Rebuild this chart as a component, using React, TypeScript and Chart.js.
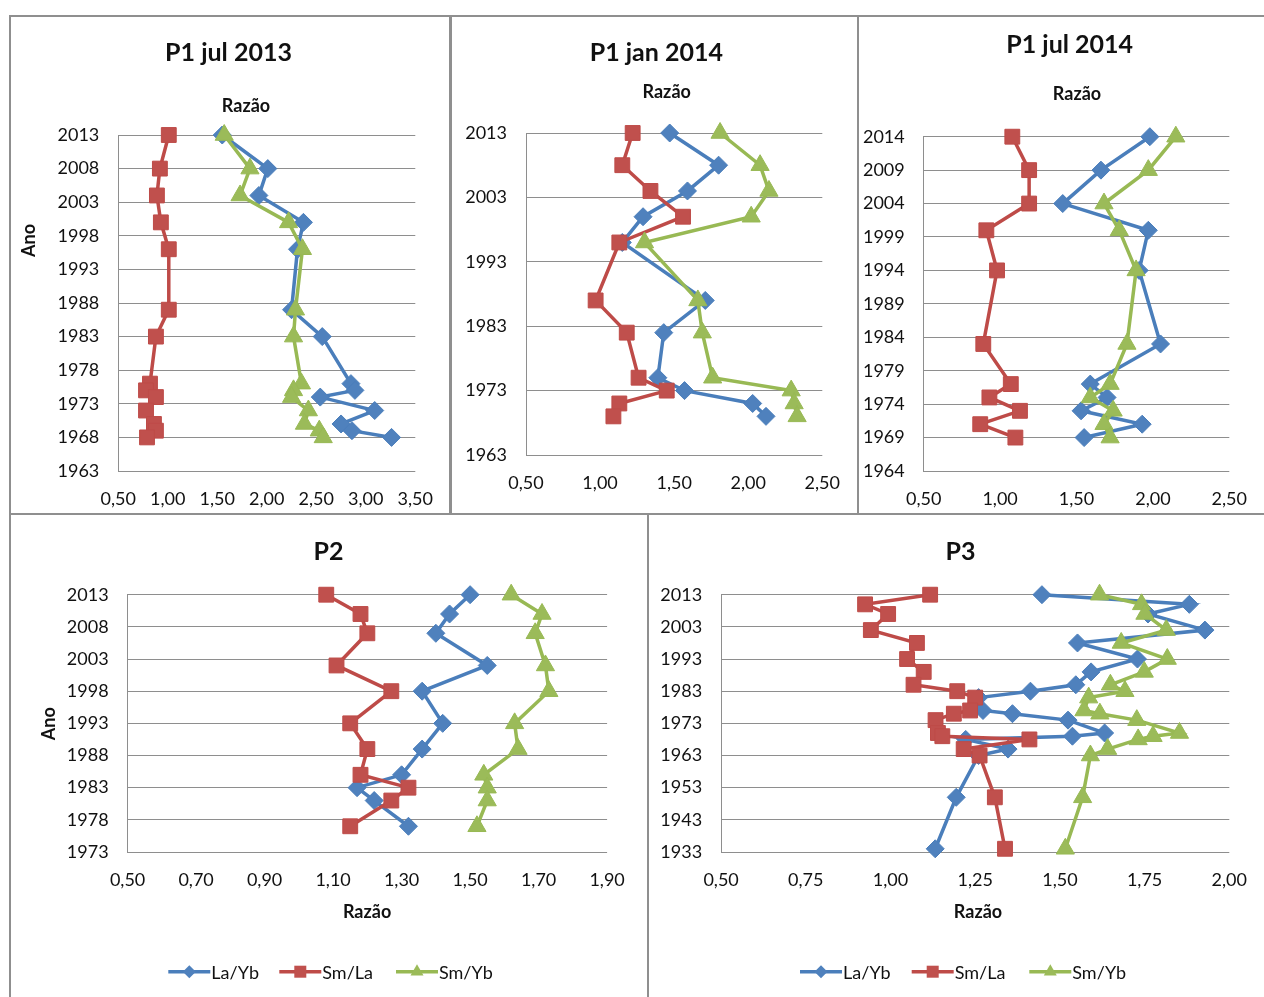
import React, { useEffect, useRef } from "react";
import { Chart, registerables } from "chart.js";

Chart.register(...registerables);

// ---------- colours / fonts ----------
const BLUE_LINE = "#4A7EBB";
const BLUE = "#4F81BD";
const RED_LINE = "#BE4B48";
const RED = "#C0504D";
const GREEN_LINE = "#98B954";
const GREEN = "#9BBB59";
const GRID = "#8e8e8e";
const TEXT = "#111111";
const FONT = "Lato";

const seriesNames = ["La/Yb", "Sm/La", "Sm/Yb"];

// ---------- P1 jul 2013 ----------
const p1j13Years = [2013, 2008, 2004, 2000, 1996, 1987, 1983, 1976, 1975, 1974, 1972, 1970, 1969, 1968];
const p1j13LaYb = [1.55, 2.01, 1.92, 2.37, 2.31, 2.25, 2.56, 2.85, 2.89, 2.54, 3.09, 2.75, 2.86, 3.26];
const p1j13SmLa = [1.01, 0.92, 0.89, 0.93, 1.01, 1.01, 0.88, 0.82, 0.78, 0.88, 0.78, 0.86, 0.88, 0.79];
const p1j13SmYb = [1.57, 1.83, 1.73, 2.22, 2.36, 2.29, 2.27, 2.35, 2.27, 2.25, 2.42, 2.38, 2.53, 2.57];
const p1j13YTicks = [1963, 1968, 1973, 1978, 1983, 1988, 1993, 1998, 2003, 2008, 2013];
const p1j13XTicks = [0.5, 1.0, 1.5, 2.0, 2.5, 3.0, 3.5];

// ---------- P1 jan 2014 ----------
const p1j14Years = [2013, 2008, 2004, 2000, 1996, 1987, 1982, 1975, 1973, 1971, 1969];
const p1j14LaYb = [1.47, 1.80, 1.59, 1.29, 1.15, 1.71, 1.43, 1.39, 1.57, 2.03, 2.12];
const p1j14SmLa = [1.22, 1.15, 1.34, 1.56, 1.13, 0.97, 1.18, 1.26, 1.45, 1.13, 1.09];
const p1j14SmYb = [1.81, 2.08, 2.14, 2.02, 1.30, 1.66, 1.69, 1.76, 2.29, 2.31, 2.33];
const p1j14YTicks = [1963, 1973, 1983, 1993, 2003, 2013];
const p1j14XTicks = [0.5, 1.0, 1.5, 2.0, 2.5];

// ---------- P1 jul 2014 ----------
const p1l14Years = [2014, 2009, 2004, 2000, 1994, 1983, 1977, 1975, 1973, 1971, 1969];
const p1l14LaYb = [1.98, 1.66, 1.41, 1.97, 1.91, 2.05, 1.59, 1.70, 1.53, 1.93, 1.55];
const p1l14SmLa = [1.08, 1.19, 1.19, 0.91, 0.98, 0.89, 1.07, 0.93, 1.13, 0.87, 1.10];
const p1l14SmYb = [2.15, 1.97, 1.68, 1.78, 1.89, 1.83, 1.72, 1.59, 1.74, 1.68, 1.72];
const p1l14YTicks = [1964, 1969, 1974, 1979, 1984, 1989, 1994, 1999, 2004, 2009, 2014];
const p1l14XTicks = [0.5, 1.0, 1.5, 2.0, 2.5];

// ---------- P2 ----------
const p2Years = [2013, 2010, 2007, 2002, 1998, 1993, 1989, 1985, 1983, 1981, 1977];
const p2LaYb = [1.50, 1.44, 1.40, 1.55, 1.36, 1.42, 1.36, 1.30, 1.17, 1.22, 1.32];
const p2SmLa = [1.08, 1.18, 1.20, 1.11, 1.27, 1.15, 1.20, 1.18, 1.32, 1.27, 1.15];
const p2SmYb = [1.62, 1.71, 1.69, 1.72, 1.73, 1.63, 1.64, 1.54, 1.55, 1.55, 1.52];
const p2YTicks = [1973, 1978, 1983, 1988, 1993, 1998, 2003, 2008, 2013];
const p2XTicks = [0.5, 0.7, 0.9, 1.1, 1.3, 1.5, 1.7, 1.9];

// ---------- P3 ----------
const p3Years = [2013, 2010, 2007, 2002, 1998, 1993, 1989, 1985, 1983, 1981, 1977, 1976, 1974, 1970, 1969, 1968, 1965, 1963, 1950, 1934];
const p3LaYb = [1.447, 1.882, 1.76, 1.928, 1.552, 1.729, 1.592, 1.547, 1.413, 1.26, 1.273, 1.36, 1.524, 1.632, 1.537, 1.222, 1.347, 1.26, 1.194, 1.132];
const p3SmLa = [1.117, 0.925, 0.993, 0.942, 1.078, 1.049, 1.098, 1.068, 1.197, 1.25, 1.235, 1.187, 1.133, 1.14, 1.153, 1.41, 1.216, 1.263, 1.308, 1.338];
const p3SmYb = [1.617, 1.741, 1.751, 1.814, 1.681, 1.817, 1.749, 1.649, 1.692, 1.585, 1.571, 1.618, 1.727, 1.853, 1.775, 1.731, 1.641, 1.59, 1.567, 1.516];
const p3YTicks = [1933, 1943, 1953, 1963, 1973, 1983, 1993, 2003, 2013];
const p3XTicks = [0.5, 0.75, 1.0, 1.25, 1.5, 1.75, 2.0];

type Rect = { x: number; y: number; w: number; h: number };
type Area = { l: number; r: number; t: number; b: number };
type Panel = {
  key: string;
  title: string;
  canvas: Rect;
  area: Area;
  years: number[];
  laYb: number[];
  smLa: number[];
  smYb: number[];
  yTicks: number[];
  xTicks: number[];
  titlePos: [number, number];
  razaoPos: [number, number];
  anoPos: [number, number] | null;
  legendXs: number[] | null;
  legendY: number;
};

const panels: Panel[] = [
  {
    key: "p1j13", title: "P1 jul 2013",
    canvas: { x: 10, y: 15, w: 440, h: 498 },
    area: { l: 118.3, r: 418.3, t: 135, b: 471 },
    years: p1j13Years, laYb: p1j13LaYb, smLa: p1j13SmLa, smYb: p1j13SmYb,
    yTicks: p1j13YTicks, xTicks: p1j13XTicks,
    titlePos: [228.5, 60.5], razaoPos: [246, 111.7], anoPos: [29, 240.5],
    legendXs: null, legendY: 0,
  },
  {
    key: "p1j14", title: "P1 jan 2014",
    canvas: { x: 450, y: 15, w: 408, h: 498 },
    area: { l: 526, r: 822.3, t: 133, b: 455 },
    years: p1j14Years, laYb: p1j14LaYb, smLa: p1j14SmLa, smYb: p1j14SmYb,
    yTicks: p1j14YTicks, xTicks: p1j14XTicks,
    titlePos: [656.3, 60.7], razaoPos: [666.7, 98], anoPos: null,
    legendXs: null, legendY: 0,
  },
  {
    key: "p1l14", title: "P1 jul 2014",
    canvas: { x: 858, y: 15, w: 406, h: 498 },
    area: { l: 923.7, r: 1235.3, t: 136.7, b: 471 },
    years: p1l14Years, laYb: p1l14LaYb, smLa: p1l14SmLa, smYb: p1l14SmYb,
    yTicks: p1l14YTicks, xTicks: p1l14XTicks,
    titlePos: [1069.7, 52.5], razaoPos: [1077, 100.3], anoPos: null,
    legendXs: null, legendY: 0,
  },
  {
    key: "p2", title: "P2",
    canvas: { x: 10, y: 513, w: 638, h: 484 },
    area: { l: 127.6, r: 607.1, t: 594.7, b: 852 },
    years: p2Years, laYb: p2LaYb, smLa: p2SmLa, smYb: p2SmYb,
    yTicks: p2YTicks, xTicks: p2XTicks,
    titlePos: [328.4, 559.7], razaoPos: [367.1, 918.3], anoPos: [49.6, 723.7],
    legendXs: [168.3, 279.3, 396], legendY: 971.7,
  },
  {
    key: "p3", title: "P3",
    canvas: { x: 648, y: 513, w: 616, h: 484 },
    area: { l: 721.1, r: 1235.4, t: 594.7, b: 852 },
    years: p3Years, laYb: p3LaYb, smLa: p3SmLa, smYb: p3SmYb,
    yTicks: p3YTicks, xTicks: p3XTicks,
    titlePos: [960.4, 559.7], razaoPos: [978, 918.3], anoPos: null,
    legendXs: [800, 911.7, 1029.3], legendY: 971.7,
  },
];

const fmtX = (v: number) => v.toFixed(2).replace(".", ",");

function drawMarker(ctx: CanvasRenderingContext2D, kind: number, x: number, y: number) {
  ctx.beginPath();
  if (kind === 0) {
    const r = 6.5;
    ctx.moveTo(x - r, y);
    ctx.lineTo(x, y - r);
    ctx.lineTo(x + r, y);
    ctx.lineTo(x, y + r);
  } else if (kind === 1) {
    const s = 6;
    ctx.rect(x - s, y - s, 2 * s, 2 * s);
  } else {
    const r = 7.5;
    ctx.moveTo(x, y - r);
    ctx.lineTo(x + r * 0.866, y + r * 0.5);
    ctx.lineTo(x - r * 0.866, y + r * 0.5);
  }
  ctx.closePath();
  ctx.fill();
}

function makeTextPlugin(p: Panel) {
  return {
    id: "panelText_" + p.key,
    afterDraw(chart: any) {
      const ctx: CanvasRenderingContext2D = chart.ctx;
      const ox = p.canvas.x;
      const oy = p.canvas.y;
      ctx.save();
      ctx.fillStyle = TEXT;
      ctx.textAlign = "center";
      ctx.textBaseline = "alphabetic";
      ctx.font = `bold 25px ${FONT}`;
      ctx.fillText(p.title, p.titlePos[0] - ox, p.titlePos[1] - oy);
      ctx.font = `bold 18px ${FONT}`;
      ctx.fillText("Razão", p.razaoPos[0] - ox, p.razaoPos[1] - oy);
      if (p.anoPos) {
        ctx.save();
        ctx.translate(p.anoPos[0] - ox, p.anoPos[1] - oy);
        ctx.rotate(-Math.PI / 2);
        ctx.textBaseline = "middle";
        ctx.fillText("Ano", 0, 0);
        ctx.restore();
      }
      if (p.legendXs) {
        const lineCols = [BLUE_LINE, RED_LINE, GREEN_LINE];
        const fillCols = [BLUE, RED, GREEN];
        const y = p.legendY - oy;
        p.legendXs.forEach((lx, i) => {
          const x0 = lx - ox;
          ctx.strokeStyle = lineCols[i];
          ctx.lineWidth = 3.5;
          ctx.beginPath();
          ctx.moveTo(x0, y);
          ctx.lineTo(x0 + 42, y);
          ctx.stroke();
          ctx.fillStyle = fillCols[i];
          drawMarker(ctx, i, x0 + 21, y);
          ctx.fillStyle = TEXT;
          ctx.font = `18px ${FONT}`;
          ctx.textAlign = "left";
          ctx.textBaseline = "middle";
          ctx.fillText(seriesNames[i], x0 + 43, y + 1);
        });
      }
      ctx.restore();
    },
  };
}

function buildConfig(p: Panel): any {
  const mk = (vals: number[]) => p.years.map((yr, i) => ({ x: vals[i], y: yr }));
  const common = { showLine: true, borderWidth: 3.5, tension: 0, clip: false, pointBorderWidth: 1, pointHoverRadius: 0 };
  const tickFont = { family: FONT, size: 18 };
  const yMin = p.yTicks[0];
  const yMax = p.yTicks[p.yTicks.length - 1];
  const xMin = p.xTicks[0];
  const xMax = p.xTicks[p.xTicks.length - 1];
  return {
    type: "scatter",
    data: {
      datasets: [
        {
          ...common, label: seriesNames[0], data: mk(p.laYb), order: 3,
          borderColor: BLUE_LINE, backgroundColor: BLUE,
          pointStyle: "rectRot", pointRadius: 9,
          pointBackgroundColor: BLUE, pointBorderColor: BLUE_LINE,
        },
        {
          ...common, label: seriesNames[1], data: mk(p.smLa), order: 2,
          borderColor: RED_LINE, backgroundColor: RED,
          pointStyle: "rect", pointRadius: 10.5,
          pointBackgroundColor: RED, pointBorderColor: RED_LINE,
        },
        {
          ...common, label: seriesNames[2], data: mk(p.smYb), order: 1,
          borderColor: GREEN_LINE, backgroundColor: GREEN,
          pointStyle: "triangle", pointRadius: 10.5,
          pointBackgroundColor: GREEN, pointBorderColor: GREEN_LINE,
        },
      ],
    },
    options: {
      responsive: false,
      animation: false,
      events: [],
      layout: {
        padding: {
          left: 0,
          top: p.area.t - p.canvas.y,
          right: p.canvas.x + p.canvas.w - p.area.r,
          bottom: 0,
        },
      },
      plugins: {
        legend: { display: false },
        tooltip: { enabled: false },
        title: { display: false },
      },
      scales: {
        x: {
          type: "linear",
          position: "bottom",
          min: xMin,
          max: xMax,
          afterBuildTicks: (s: any) => {
            s.ticks = p.xTicks.map((v) => ({ value: v }));
          },
          afterFit: (s: any) => {
            s.height = p.canvas.y + p.canvas.h - p.area.b;
          },
          grid: { display: false, drawTicks: false },
          border: { display: false },
          ticks: {
            padding: 17,
            font: tickFont,
            color: TEXT,
            autoSkip: false,
            maxRotation: 0,
            callback: (v: number) => fmtX(v),
          },
        },
        y: {
          type: "linear",
          position: "left",
          min: yMin,
          max: yMax,
          afterBuildTicks: (s: any) => {
            s.ticks = p.yTicks.map((v) => ({ value: v }));
          },
          afterFit: (s: any) => {
            s.width = p.area.l - p.canvas.x;
          },
          grid: { color: GRID, lineWidth: 1, drawTicks: false },
          border: { display: true, color: GRID, width: 1 },
          ticks: {
            padding: 19,
            font: tickFont,
            color: TEXT,
            autoSkip: false,
            callback: (v: number) => String(v),
          },
        },
      },
    },
    plugins: [makeTextPlugin(p)],
  };
}

function PanelChart({ p }: { p: Panel }) {
  const ref = useRef<HTMLCanvasElement | null>(null);
  useEffect(() => {
    if (!ref.current) return;
    const chart = new Chart(ref.current, buildConfig(p));
    return () => chart.destroy();
  }, [p]);
  return (
    <canvas
      ref={ref}
      width={p.canvas.w}
      height={p.canvas.h}
      style={{
        position: "absolute",
        left: p.canvas.x,
        top: p.canvas.y,
        width: p.canvas.w,
        height: p.canvas.h,
      }}
    />
  );
}

const BORDER = "#8f8f8f";
const borderLines = [
  { left: 9, top: 15, width: 1255, height: 2 },
  { left: 9, top: 15, width: 2, height: 982 },
  { left: 449, top: 15, width: 3, height: 499 },
  { left: 857, top: 15, width: 2, height: 499 },
  { left: 9, top: 513, width: 1255, height: 2 },
  { left: 647, top: 513, width: 2, height: 484 },
];

export default function App() {
  return (
    <div
      style={{
        position: "absolute",
        left: 0,
        top: 0,
        width: 1264,
        height: 997,
        background: "#ffffff",
        overflow: "hidden",
      }}
    >
      {panels.map((p) => (
        <PanelChart key={p.key} p={p} />
      ))}
      {borderLines.map((b, i) => (
        <div
          key={i}
          style={{ position: "absolute", background: BORDER, ...b }}
        />
      ))}
    </div>
  );
}
